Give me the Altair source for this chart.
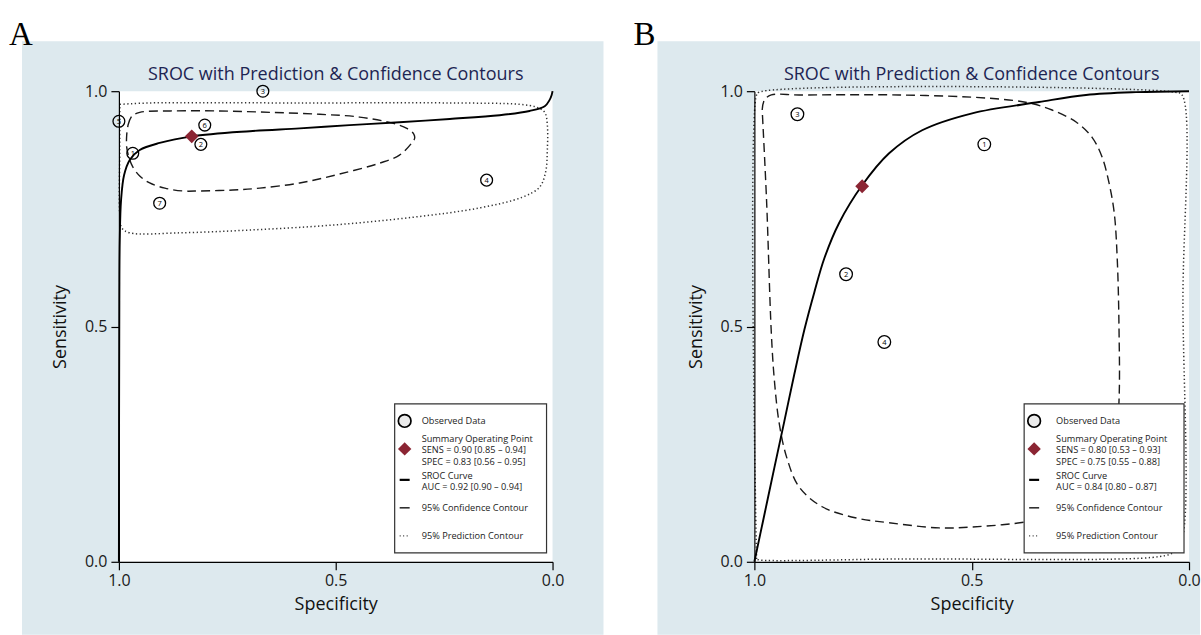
import altair as alt
import pandas as pd

TITLE = "SROC with Prediction & Confidence Contours"
FONT = "Open Sans"
NAVY = "#1d2553"
BLUE = "#dde9ee"
RED = "#8b2533"

# ---------------- Panel A data ----------------
A_obs_id = ["1", "2", "3", "4", "5", "6", "7"]
A_obs_spec = [0.968, 0.811, 0.668, 0.152, 1.000, 0.802, 0.906]
A_obs_sens = [0.868, 0.887, 1.000, 0.811, 0.936, 0.928, 0.762]
A_sum_spec = [0.832]
A_sum_sens = [0.904]

A_sroc_spec = [1.000, 0.999, 0.998, 0.995, 0.988, 0.975, 0.952, 0.906, 0.832, 0.698,
               0.583, 0.468, 0.353, 0.237, 0.122, 0.053, 0.018, 0.007, 0.002, 0.000]
A_sroc_sens = [0.000, 0.556, 0.684, 0.769, 0.822, 0.854, 0.875, 0.890, 0.904, 0.915,
               0.921, 0.928, 0.934, 0.941, 0.949, 0.958, 0.968, 0.981, 0.992, 1.000]

A_conf_spec = [0.979, 0.970, 0.952, 0.882, 0.767, 0.652, 0.537, 0.445, 0.369, 0.336,
               0.320, 0.318, 0.323, 0.353, 0.399, 0.491, 0.583, 0.675, 0.737, 0.813,
               0.853, 0.894, 0.929, 0.952, 0.968, 0.977, 0.982, 0.982, 0.979]
A_conf_sens = [0.928, 0.947, 0.955, 0.958, 0.958, 0.955, 0.951, 0.945, 0.932, 0.921,
               0.909, 0.900, 0.892, 0.864, 0.847, 0.824, 0.805, 0.794, 0.790, 0.788,
               0.788, 0.794, 0.805, 0.820, 0.839, 0.860, 0.881, 0.907, 0.928]

A_pred_spec = [0.998, 0.929, 0.583, 0.237, 0.076, 0.037, 0.018, 0.012, 0.012, 0.016, 0.030,
               0.069, 0.168, 0.323, 0.514, 0.698, 0.859, 0.975, 0.993, 0.998, 0.998, 0.998]
A_pred_sens = [0.972, 0.975, 0.975, 0.975, 0.972, 0.966, 0.955, 0.928, 0.875, 0.828, 0.796,
               0.775, 0.752, 0.732, 0.715, 0.705, 0.699, 0.699, 0.709, 0.737, 0.875, 0.972]

A_legend = ["Observed Data", "Summary Operating Point", "SENS = 0.90 [0.85 \u2013 0.94]",
            "SPEC = 0.83 [0.56 \u2013 0.95]", "SROC Curve", "AUC = 0.92 [0.90 \u2013 0.94]",
            "95% Confidence Contour", "95% Prediction Contour"]

# ---------------- Panel B data ----------------
B_obs_id = ["1", "2", "3", "4"]
B_obs_spec = [0.471, 0.789, 0.901, 0.701]
B_obs_sens = [0.887, 0.611, 0.951, 0.467]
B_sum_spec = [0.752]
B_sum_sens = [0.798]

B_sroc_spec = [1.000, 0.977, 0.954, 0.931, 0.908, 0.885, 0.862, 0.839, 0.805, 0.752,
               0.690, 0.614, 0.499, 0.345, 0.237, 0.122, 0.000]
B_sroc_sens = [0.000, 0.100, 0.200, 0.299, 0.399, 0.493, 0.573, 0.645, 0.720, 0.800,
               0.868, 0.917, 0.953, 0.977, 0.992, 0.998, 1.000]

B_conf_spec = [0.982, 0.977, 0.961, 0.897, 0.667, 0.460, 0.368, 0.315, 0.259, 0.223,
               0.200, 0.184, 0.172, 0.165, 0.161, 0.161, 0.172, 0.207, 0.276, 0.374,
               0.499, 0.575, 0.690, 0.765, 0.844, 0.897, 0.926, 0.943, 0.954, 0.961,
               0.972, 0.982]
B_conf_sens = [0.960, 0.981, 0.992, 0.992, 0.992, 0.985, 0.975, 0.960, 0.934, 0.902,
               0.860, 0.805, 0.741, 0.641, 0.493, 0.344, 0.217, 0.142, 0.106, 0.085,
               0.074, 0.072, 0.083, 0.093, 0.117, 0.159, 0.223, 0.295, 0.386, 0.486,
               0.769, 0.960]

B_pred_spec = [0.995, 0.995, 0.989, 0.034, 0.016, 0.014, 0.016, 0.034, 0.069, 0.667, 0.989, 0.995]
B_pred_sens = [0.006, 0.992, 0.998, 0.998, 0.992, 0.556, 0.047, 0.021, 0.011, 0.006, 0.004, 0.006]

B_legend = ["Observed Data", "Summary Operating Point", "SENS = 0.80 [0.53 \u2013 0.93]",
            "SPEC = 0.75 [0.55 \u2013 0.88]", "SROC Curve", "AUC = 0.84 [0.80 \u2013 0.87]",
            "95% Confidence Contour", "95% Prediction Contour"]

H = 471


def encs(W):
    x = alt.X("spec:Q",
              scale=alt.Scale(domain=[0, 1], reverse=True, nice=False, zero=False),
              axis=alt.Axis(values=[0, 0.5, 1], format=".1f", grid=False, tickSize=8,
                            tickWidth=1.2, tickColor="black", domainColor="black",
                            domainWidth=1.2, labelFont=FONT, labelFontSize=16,
                            labelColor="#1a1a1a", labelPadding=3, labelFlush=False,
                            title="Specificity", titleFont=FONT, titleFontSize=18,
                            titleFontWeight="normal", titleColor="#111",
                            titleX=W / 2, titleY=43, titleBaseline="middle",
                            titleAlign="center", zindex=1))
    y = alt.Y("sens:Q",
              scale=alt.Scale(domain=[0, 1], nice=False, zero=False),
              axis=alt.Axis(values=[0, 0.5, 1], format=".1f", grid=False, tickSize=8,
                            tickWidth=1.2, tickColor="black", domainColor="black",
                            domainWidth=1.2, labelFont=FONT, labelFontSize=16,
                            labelColor="#1a1a1a", labelPadding=4, labelFlush=False,
                            title="Sensitivity", titleFont=FONT, titleFontSize=18,
                            titleFontWeight="normal", titleColor="#111",
                            titleX=-58, titleY=H / 2, titleAngle=270,
                            titleBaseline="middle", titleAlign="center", zindex=1))
    return x, y


def curve_df(spec, sens):
    return pd.DataFrame({"spec": spec, "sens": sens, "i": list(range(len(spec)))})


def panel(letter, W, bg, leg, obs_id, obs_spec, obs_sens, sum_spec, sum_sens,
          sroc, conf, pred, legend_lines, obs_size):
    x, y = encs(W)
    dummy = alt.Chart(pd.DataFrame({"k": [0]}))
    layers = []
    # canvas / backgrounds
    layers.append(dummy.mark_rect(color="white").encode(
        x=alt.value(bg["cx0"]), x2=alt.value(bg["x1"]), y=alt.value(-91), y2=alt.value(544)))
    layers.append(dummy.mark_rect(color=BLUE).encode(
        x=alt.value(bg["x0"]), x2=alt.value(bg["x1"]), y=alt.value(-50), y2=alt.value(544)))
    layers.append(dummy.mark_rect(color="white").encode(
        x=alt.value(0), x2=alt.value(W), y=alt.value(0), y2=alt.value(H)))

    # contours and curve
    layers.append(alt.Chart(curve_df(*pred)).mark_line(
        color="#333", strokeWidth=1.5, strokeDash=[1.3, 2.5], interpolate="catmull-rom"
    ).encode(x=x, y=y, order="i:Q"))
    layers.append(alt.Chart(curve_df(*conf)).mark_line(
        color="#1a1a1a", strokeWidth=1.4, strokeDash=[9, 5], interpolate="catmull-rom"
    ).encode(x=x, y=y, order="i:Q"))
    layers.append(alt.Chart(curve_df(*sroc)).mark_line(
        color="black", strokeWidth=1.9, interpolate="catmull-rom"
    ).encode(x=x, y=y, order="i:Q"))

    # observed points
    obs = pd.DataFrame({"spec": obs_spec, "sens": obs_sens, "id": obs_id})
    layers.append(alt.Chart(obs).mark_point(
        shape="circle", filled=False, color="black", strokeWidth=1.3, size=obs_size, opacity=1
    ).encode(x=x, y=y))
    layers.append(alt.Chart(obs).mark_text(
        font=FONT, fontSize=7.5, color="black", align="center", baseline="middle", dy=0.5
    ).encode(x=x, y=y, text="id:N"))

    # summary point
    summ = pd.DataFrame({"spec": sum_spec, "sens": sum_sens})
    layers.append(alt.Chart(summ).mark_point(
        shape="diamond", filled=True, color=RED, size=190, opacity=1
    ).encode(x=x, y=y))

    # legend
    x0, x1, sx, tx = leg
    layers.append(dummy.mark_rect(fill="white", stroke="#333", strokeWidth=1.2).encode(
        x=alt.value(x0), x2=alt.value(x1), y=alt.value(313), y2=alt.value(462)))
    layers.append(dummy.mark_point(shape="circle", filled=True, fill="#ececec", stroke="black",
                                   strokeWidth=1.7, size=160, opacity=1).encode(
        x=alt.value(sx), y=alt.value(330)))
    layers.append(dummy.mark_point(shape="diamond", filled=True, color=RED, size=180,
                                   opacity=1).encode(x=alt.value(sx), y=alt.value(358)))
    layers.append(dummy.mark_rule(color="black", strokeWidth=2.2).encode(
        x=alt.value(sx - 5), x2=alt.value(sx + 5), y=alt.value(389)))
    layers.append(dummy.mark_rule(color="black", strokeWidth=1.3).encode(
        x=alt.value(sx - 5), x2=alt.value(sx + 5), y=alt.value(417)))
    layers.append(dummy.mark_rule(color="#333", strokeWidth=1.2, strokeDash=[1, 2.5]).encode(
        x=alt.value(sx - 5), x2=alt.value(sx + 5), y=alt.value(445)))
    for text, yy in zip(legend_lines, [330, 348, 359.5, 371, 385, 396.5, 417, 445]):
        layers.append(dummy.mark_text(font=FONT, fontSize=9.2, color="#222", align="left",
                                      baseline="middle").encode(
            x=alt.value(tx), y=alt.value(yy), text=alt.value(text)))

    # title and panel letter
    layers.append(dummy.mark_text(font=FONT, fontSize=18, color=NAVY, align="center",
                                  baseline="alphabetic").encode(
        x=alt.value(W / 2), y=alt.value(-11), text=alt.value(TITLE)))
    layers.append(dummy.mark_text(font="Liberation Serif", fontSize=33, color="black",
                                  align="left", baseline="alphabetic").encode(
        x=alt.value(bg["lx"]), y=alt.value(-46), text=alt.value(letter)))

    return alt.layer(*layers).properties(width=W, height=H)


chartA = panel("A", 434, {"cx0": -119, "x0": -97, "x1": 485, "lx": -110},
               (276, 428, 286, 303),
               A_obs_id, A_obs_spec, A_obs_sens, A_sum_spec, A_sum_sens,
               (A_sroc_spec, A_sroc_sens), (A_conf_spec, A_conf_sens),
               (A_pred_spec, A_pred_sens), A_legend, 140)

chartB = panel("B", 435, {"cx0": -97, "x0": -97, "x1": 446, "lx": -121},
               (270, 430, 280, 302),
               B_obs_id, B_obs_spec, B_obs_sens, B_sum_spec, B_sum_sens,
               (B_sroc_spec, B_sroc_sens), (B_conf_spec, B_conf_sens),
               (B_pred_spec, B_pred_sens), B_legend, 160)

chart = alt.hconcat(chartA, chartB, spacing=202, bounds="flush",
                    padding={"left": 0, "top": 0, "right": 0, "bottom": 0},
                    background="white").configure_view(strokeWidth=0)

chart.save("out.html", embed_options={"renderer": "svg", "actions": False})
